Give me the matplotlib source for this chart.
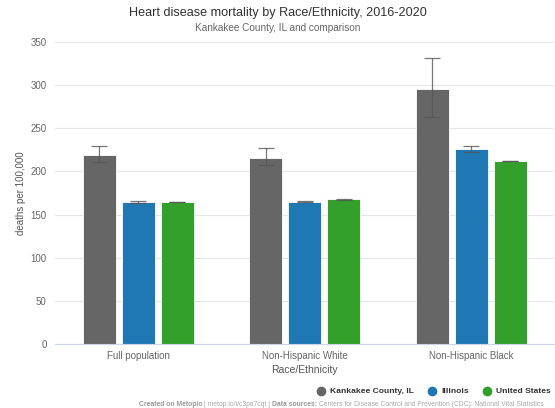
import numpy as np
import matplotlib.pyplot as plt

plt.rcParams['font.family'] = ['Liberation Sans', 'DejaVu Sans']

categories = ['Full population', 'Non-Hispanic White', 'Non-Hispanic Black']
series_names = ['Kankakee County, IL', 'Illinois', 'United States']
colors = ['#666666', '#1f78b4', '#33a02c']

kankakee = [219, 215.5, 295.5]
kankakee_lo = [211, 207, 263]
kankakee_hi = [229, 227, 331]
illinois = [164.5, 165, 226]
illinois_lo = [163.5, 164, 223]
illinois_hi = [165.5, 166, 230]
usa = [164.5, 167.5, 212]
usa_lo = [164, 167, 211.5]
usa_hi = [165, 168, 212.5]

values = [kankakee, illinois, usa]
lows = [kankakee_lo, illinois_lo, usa_lo]
highs = [kankakee_hi, illinois_hi, usa_hi]

fig = plt.figure(figsize=(5.55, 4.08), dpi=100)
ax = fig.add_axes([0.099, 0.157, 0.9, 0.74])

x = np.arange(len(categories))
offsets = [-0.234, 0, 0.234]
for i in range(3):
    v = np.array(values[i])
    err = [v - np.array(lows[i]), np.array(highs[i]) - v]
    ax.bar(x + offsets[i], v, width=0.2, color=colors[i], edgecolor='white', linewidth=0.6, zorder=2)
    ax.errorbar(x + offsets[i], v, yerr=err, fmt='none', ecolor='#555555', elinewidth=0.9,
                capsize=6, capthick=0.9, alpha=0.8, zorder=3)

ax.set_xlim(-0.5, 2.5)
ax.set_ylim(0, 350)
ax.set_yticks(range(0, 351, 50))
ax.set_xticks(x)
ax.set_xticklabels(categories)
ax.grid(axis='y', color='#e6e6e6', linewidth=0.8, zorder=0)
for s in ['top', 'right', 'left']:
    ax.spines[s].set_visible(False)
ax.spines['bottom'].set_color('#ccd6eb')
ax.spines['bottom'].set_linewidth(0.8)
ax.tick_params(axis='both', length=0, labelsize=7, colors='#666666')
ax.tick_params(axis='y', pad=6)
ax.tick_params(axis='x', pad=5)
ax.set_ylabel('deaths per 100,000', fontsize=7, color='#555555', labelpad=3)
ax.set_xlabel('Race/Ethnicity', fontsize=7.5, color='#555555', labelpad=3)

fig.text(0.5, 0.968, 'Heart disease mortality by Race/Ethnicity, 2016-2020', ha='center', va='center',
         fontsize=9.1, color='#333333')
fig.text(0.5, 0.931, 'Kankakee County, IL and comparison', ha='center', va='center',
         fontsize=7.2, color='#666666')

# legend
lx = [0.578, 0.778, 0.877]
for i in range(3):
    fig.lines.append(plt.Line2D([lx[i]], [0.041], marker='o', markersize=6, color=colors[i],
                                transform=fig.transFigure, linestyle='none'))
    fig.text(lx[i] + 0.017, 0.041, series_names[i], ha='left', va='center', fontsize=6.1,
             fontweight='bold', color='#333333')

# footer, pieces chained left to right
parts = [('Created on Metopio', 'bold', '#999999'),
         (' | metop.io/i/c3pa7cqt | ', 'normal', '#aaaaaa'),
         ('Data sources:', 'bold', '#999999'),
         (' Centers for Disease Control and Prevention (CDC): National Vital Statistics', 'normal', '#aaaaaa')]
prev = fig.text(0.25, 0.009, parts[0][0], ha='left', va='center', fontsize=4.85,
                fontweight=parts[0][1], color=parts[0][2])
for txt, w, c in parts[1:]:
    prev = ax.annotate(txt, xy=(1, 0.5), xycoords=prev, va='center', ha='left',
                       fontsize=4.85, fontweight=w, color=c, annotation_clip=False)

fig.savefig('out.png', dpi=100)
